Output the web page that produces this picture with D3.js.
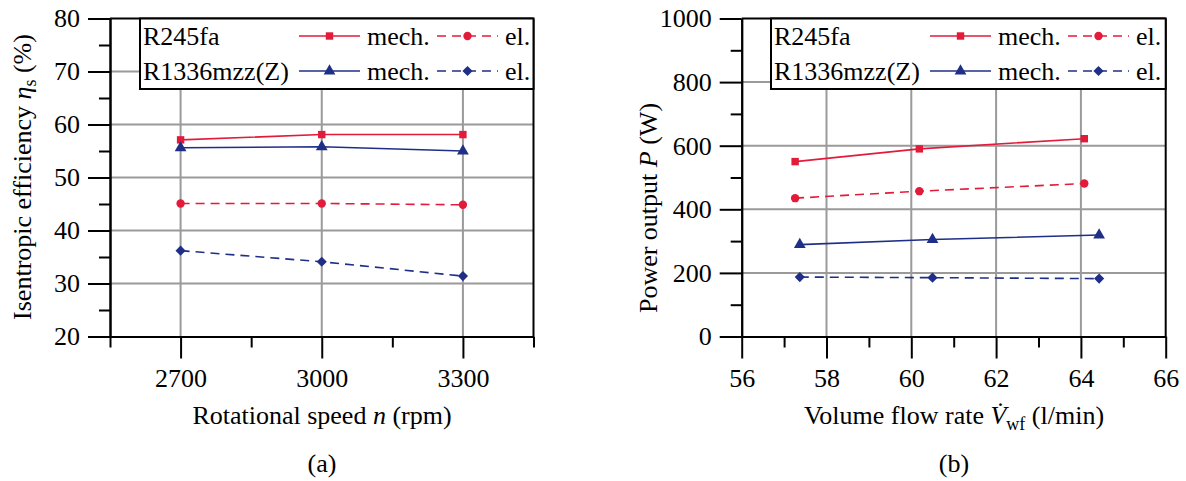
<!DOCTYPE html>
<html><head><meta charset="utf-8">
<script src="https://cdn.jsdelivr.net/npm/d3@7"></script>
<style>
body{margin:0;background:#fff;}
svg{display:block;}
text{font-family:"Liberation Serif","Times New Roman",serif;fill:#000;}
</style></head>
<body>
<svg id="c" width="1186" height="481"></svg>
<script>
// ---------- data ----------
const speedCats = [2700, 3000, 3300];
const effR245faMech = [57.1, 58.1, 58.1];
const effR245faEl = [45.1, 45.1, 44.85];
const effR1336Mech = [55.6, 55.8, 55.0];
const effR1336El = [36.2, 34.1, 31.4];

const flowR245fa = [57.26, 60.19, 64.08];
const flowR1336 = [57.37, 60.5, 64.43];
const powR245faMech = [550, 590, 622];
const powR245faEl = [435, 457, 481];
const powR1336Mech = [289, 305, 319];
const powR1336El = [187, 185, 182];

const effTicks = [20, 30, 40, 50, 60, 70, 80];
const effMinor = [25, 35, 45, 55, 65, 75];
const speedTicks = [2700, 3000, 3300];
const speedMinor = [2550, 2850, 3150, 3450];
const powTicks = [0, 200, 400, 600, 800, 1000];
const powMinor = [100, 300, 500, 700, 900];
const flowTicks = [56, 58, 60, 62, 64, 66];
const flowMinor = [57, 59, 61, 63, 65];

const legendNames = ["R245fa", "R1336mzz(Z)"];

// ---------- style ----------
const RED = "#e31b3a", BLUE = "#1f2f88", GRID = "#9a9a9a";
const FS = 26;
const svg = d3.select("#c");
const fmt = d3.format("d");

function drawPanel(o) {
  const g = svg.append("g");
  const x = d3.scaleLinear().domain(o.xDomain).range([o.x0, o.x1]);
  const y = d3.scaleLinear().domain(o.yDomain).range([o.y1, o.y0]);
  // grid
  g.selectAll(".gx").data(o.xGrid).enter().append("line")
    .attr("x1", d => x(d)).attr("x2", d => x(d)).attr("y1", o.y0).attr("y2", o.y1)
    .attr("stroke", GRID).attr("stroke-width", 2);
  g.selectAll(".gy").data(o.yGrid).enter().append("line")
    .attr("y1", d => y(d)).attr("y2", d => y(d)).attr("x1", o.x0).attr("x2", o.x1)
    .attr("stroke", GRID).attr("stroke-width", 2);
  // frame top/right
  g.append("line").attr("x1", o.x0).attr("x2", o.x1).attr("y1", o.y0).attr("y2", o.y0).attr("stroke", "#000").attr("stroke-width", 2);
  g.append("line").attr("x1", o.x1).attr("x2", o.x1).attr("y1", o.y0).attr("y2", o.y1).attr("stroke", "#000").attr("stroke-width", 2);
  // axes
  const styleAxis = sel => {
    sel.selectAll("path").attr("stroke", "#000").attr("stroke-width", 2);
    sel.selectAll("line").attr("stroke", "#000").attr("stroke-width", 2);
    sel.selectAll("text").attr("font-family", "Liberation Serif").attr("font-size", FS).attr("fill", "#000");
  };
  g.append("g").attr("transform", `translate(0,${o.y1})`)
    .call(d3.axisBottom(x).tickValues(o.xMinor).tickSize(11).tickFormat("").tickSizeOuter(0)).call(styleAxis);
  g.append("g").attr("transform", `translate(0,${o.y1})`)
    .call(d3.axisBottom(x).tickValues(o.xTicks).tickSize(22).tickPadding(10).tickFormat(fmt).tickSizeOuter(0)).call(styleAxis);
  g.append("g").attr("transform", `translate(${o.x0},0)`)
    .call(d3.axisLeft(y).tickValues(o.yMinor).tickSize(11).tickFormat("").tickSizeOuter(0)).call(styleAxis);
  g.append("g").attr("transform", `translate(${o.x0},0)`)
    .call(d3.axisLeft(y).tickValues(o.yTicks).tickSize(22).tickPadding(8).tickFormat(fmt).tickSizeOuter(0)).call(styleAxis);

  const symPath = s => d3.symbol().type(s.sym).size(s.size)();
  const symRot = s => s.rot ? " rotate(45)" : "";

  // series
  o.series.forEach(s => {
    const pts = s.xs.map((xv, i) => [x(xv), y(s.ys[i])]);
    g.append("path").attr("d", d3.line()(pts)).attr("fill", "none")
      .attr("stroke", s.color).attr("stroke-width", 1.6)
      .attr("stroke-dasharray", s.dash ? "9,6" : null);
    g.selectAll(null).data(pts).enter().append("path")
      .attr("transform", p => `translate(${p[0]},${p[1]})` + symRot(s))
      .attr("d", symPath(s)).attr("fill", s.color);
  });

  // legend
  const lx = o.legX, lyT = o.y0, lyB = 89;
  g.append("rect").attr("x", lx).attr("y", lyT).attr("width", o.x1 - lx).attr("height", lyB - lyT)
    .attr("fill", "#fff").attr("stroke", "#000").attr("stroke-width", 2);
  const rows = [[o.series[0], o.series[1]], [o.series[2], o.series[3]]];
  rows.forEach((r, i) => {
    const ly = 36 + i * 35, tb = 45 + i * 35;
    g.append("text").attr("x", lx + 3).attr("y", tb).attr("font-size", FS).text(legendNames[i]);
    [[r[0], 159, "mech.", 227], [r[1], 297, "el.", 365]].forEach(([s, x0, lab, tx]) => {
      g.append("line").attr("x1", lx + x0).attr("x2", lx + x0 + 61).attr("y1", ly).attr("y2", ly)
        .attr("stroke", s.color).attr("stroke-width", 1.6).attr("stroke-dasharray", s.dash ? "9,6" : null);
      g.append("path").attr("transform", `translate(${lx + x0 + 30.5},${ly})` + symRot(s))
        .attr("d", symPath(s)).attr("fill", s.color);
      g.append("text").attr("x", lx + tx).attr("y", tb).attr("font-size", FS).text(lab);
    });
  });
  return {x, y, g};
}

const seriesStyle = [
  {color: RED, dash: false, sym: d3.symbolSquare, size: 55},
  {color: RED, dash: true, sym: d3.symbolCircle, size: 55},
  {color: BLUE, dash: false, sym: d3.symbolTriangle, size: 60},
  {color: BLUE, dash: true, sym: d3.symbolSquare, size: 52, rot: true}
];

drawPanel({
  x0: 110, x1: 533.5, y0: 18.5, y1: 336.5,
  xDomain: [2550, 3450], yDomain: [20, 80],
  xTicks: speedTicks, xMinor: speedMinor, yTicks: effTicks, yMinor: effMinor,
  xGrid: speedTicks, yGrid: effTicks.slice(1, -1),
  legX: 140,
  series: [
    Object.assign({xs: speedCats, ys: effR245faMech}, seriesStyle[0]),
    Object.assign({xs: speedCats, ys: effR245faEl}, seriesStyle[1]),
    Object.assign({xs: speedCats, ys: effR1336Mech}, seriesStyle[2]),
    Object.assign({xs: speedCats, ys: effR1336El}, seriesStyle[3])
  ]
});

drawPanel({
  x0: 741.7, x1: 1165.7, y0: 18.5, y1: 336.5,
  xDomain: [56, 66], yDomain: [0, 1000],
  xTicks: flowTicks, xMinor: flowMinor, yTicks: powTicks, yMinor: powMinor,
  xGrid: flowTicks.slice(1, -1), yGrid: powTicks.slice(1, -1),
  legX: 771,
  series: [
    Object.assign({xs: flowR245fa, ys: powR245faMech}, seriesStyle[0]),
    Object.assign({xs: flowR245fa, ys: powR245faEl}, seriesStyle[1]),
    Object.assign({xs: flowR1336, ys: powR1336Mech}, seriesStyle[2]),
    Object.assign({xs: flowR1336, ys: powR1336El}, seriesStyle[3])
  ]
});

// ---------- axis titles ----------
const ly = svg.append("text").attr("transform", "translate(31,177) rotate(-90)")
  .attr("text-anchor", "middle").attr("font-size", FS);
ly.append("tspan").text("Isentropic efficiency ");
ly.append("tspan").attr("font-style", "italic").text("η");
ly.append("tspan").attr("font-size", 18).attr("dy", 5).text("s");
ly.append("tspan").attr("dy", -5).text(" (%)");

const lxT = svg.append("text").attr("x", 322).attr("y", 424).attr("text-anchor", "middle").attr("font-size", FS);
lxT.append("tspan").text("Rotational speed ");
lxT.append("tspan").attr("font-style", "italic").text("n");
lxT.append("tspan").text(" (rpm)");
svg.append("text").attr("x", 322).attr("y", 472).attr("text-anchor", "middle").attr("font-size", FS).text("(a)");

const ry = svg.append("text").attr("transform", "translate(657,208) rotate(-90)")
  .attr("text-anchor", "middle").attr("font-size", FS);
ry.append("tspan").text("Power output ");
ry.append("tspan").attr("font-style", "italic").text("P");
ry.append("tspan").text(" (W)");

const rx = svg.append("text").attr("x", 954).attr("y", 424).attr("text-anchor", "middle").attr("font-size", FS);
rx.append("tspan").text("Volume flow rate ");
rx.append("tspan").attr("font-style", "italic").text("V\u0307");
rx.append("tspan").attr("font-size", 18).attr("dy", 6).text("wf");
rx.append("tspan").attr("dy", -6).text(" (l/min)");
svg.append("text").attr("x", 954).attr("y", 472).attr("text-anchor", "middle").attr("font-size", FS).text("(b)");
</script>
</body></html>
